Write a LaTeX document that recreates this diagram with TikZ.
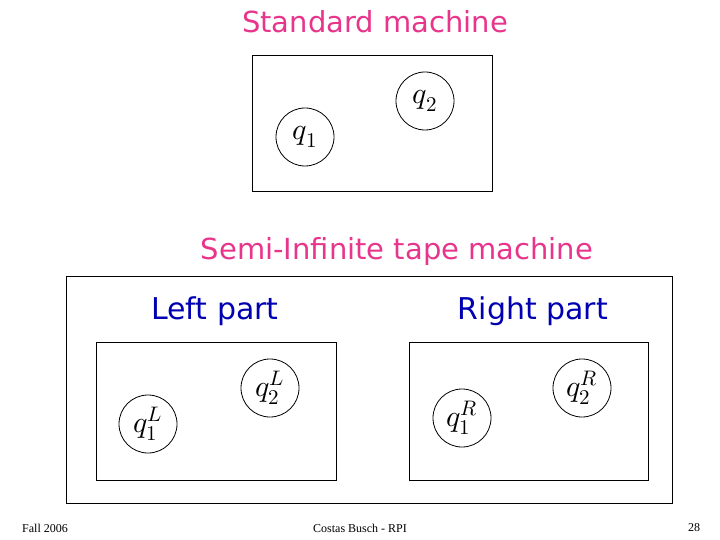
\documentclass[tikz,border=0pt]{standalone}
\usepackage{fontspec}
\usepackage{unicode-math}
\setmathfont{Latin Modern Math}
\setsansfont{DejaVu Sans}
\newfontfamily\footfont{Liberation Serif}
\definecolor{pinkt}{HTML}{E8358C}
\begin{document}
\begin{tikzpicture}[x=1pt,y=-1pt,
  box/.style={draw,line width=0.8pt},
  st/.style={circle,draw,line width=0.8pt,minimum size=58pt,inner sep=0pt,font=\fontsize{30}{32}\selectfont},
  ttl/.style={text=pinkt,font=\sffamily\fontsize{29}{32}\selectfont},
  lab/.style={text=blue!70!black,font=\sffamily\fontsize{30}{34}\selectfont},
  foot/.style={font=\footfont\fontsize{12}{14}\selectfont}]
\useasboundingbox (0,0) rectangle (720,540);
\node[ttl] (t1) at (375,22) {Standard machine};
\draw[box] (252,55) rectangle (492,191);
\node[st] (a1) at (305,137) {$q_1$};
\node[st] (a2) at (425,101) {$q_2$};
\node[ttl] (t2) at (397,251) {Semi-Infinite tape machine};
\draw[box] (66,276) rectangle (672,503);
\node[lab] (lp) at (215,311) {Left part};
\node[lab] (rp) at (533,311) {Right part};
\draw[box] (96,342) rectangle (336,480);
\draw[box] (409,342) rectangle (648,480);
\node[st] (l1) at (148,424) {$q_1^L$};
\node[st] (l2) at (270,388) {$q_2^L$};
\node[st] (r1) at (462,418) {$q_1^R$};
\node[st] (r2) at (582,388) {$q_2^R$};
\node[foot] (f1) at (45,528) {Fall 2006};
\node[foot] (f2) at (360,528) {Costas Busch - RPI};
\node[foot] (f3) at (694,528) {28};
\end{tikzpicture}
\end{document}
